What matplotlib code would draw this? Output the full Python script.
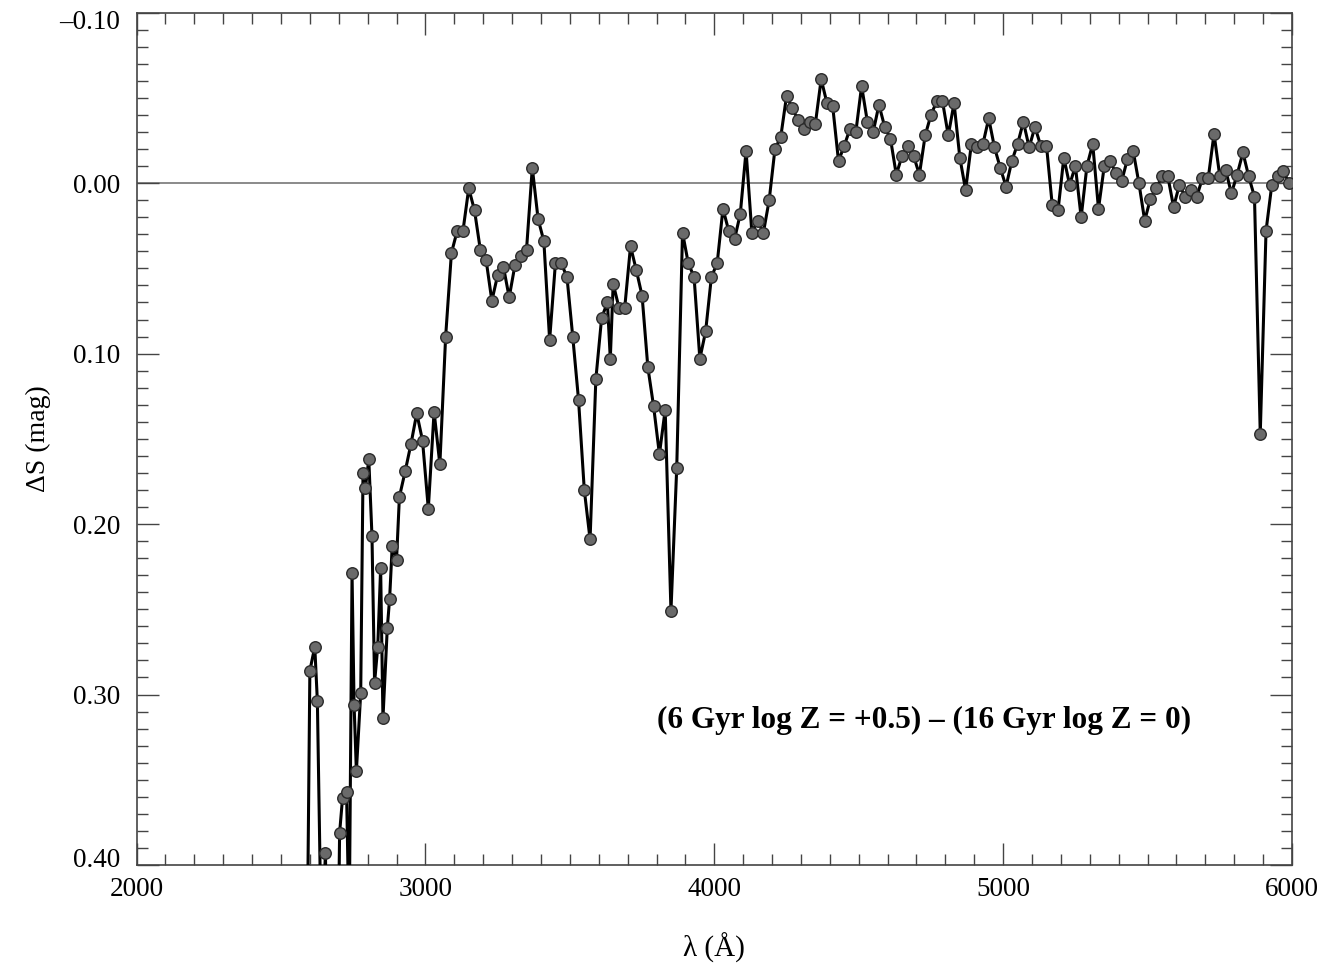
import matplotlib
matplotlib.use("Agg")
import matplotlib.pyplot as plt
from matplotlib.ticker import MultipleLocator, FixedLocator
from matplotlib.transforms import ScaledTranslation

# Wavelength (Angstrom) and Delta S (mag)
wavelength = [
    2588, 2600, 2617, 2626, 2640, 2654, 2665, 2690, 2703, 2713, 2727, 2736,
    2746, 2753, 2761, 2776, 2784, 2792, 2804, 2815, 2824, 2835, 2845, 2853,
    2868, 2876, 2885, 2900, 2910, 2930, 2950, 2970, 2990, 3010, 3030, 3050,
    3070, 3090, 3110, 3130, 3150, 3170, 3190, 3210, 3230, 3250, 3270, 3290,
    3310, 3330, 3350, 3370, 3390, 3410, 3430, 3450, 3470, 3490, 3510, 3530,
    3550, 3570, 3590, 3610, 3630, 3640, 3650, 3670, 3690, 3710, 3730, 3750,
    3770, 3790, 3810, 3830, 3850, 3870, 3890, 3910, 3930, 3950, 3970, 3990,
    4010, 4030, 4050, 4070, 4090, 4110, 4130, 4150, 4170, 4190, 4210, 4230,
    4250, 4270, 4290, 4310, 4330, 4350, 4370, 4390, 4410, 4430, 4450, 4470,
    4490, 4510, 4530, 4550, 4570, 4590, 4610, 4630, 4650, 4670, 4690, 4710,
    4730, 4750, 4770, 4790, 4810, 4830, 4850, 4870, 4890, 4910, 4930, 4950,
    4970, 4990, 5010, 5030, 5050, 5070, 5090, 5110, 5130, 5150, 5170, 5190,
    5210, 5230, 5250, 5270, 5290, 5310, 5330, 5350, 5370, 5390, 5410, 5430,
    5450, 5470, 5490, 5510, 5530, 5550, 5570, 5590, 5610, 5630, 5650, 5670,
    5690, 5710, 5730, 5750, 5770, 5790, 5810, 5830, 5850, 5870, 5890, 5910,
    5930, 5950, 5970, 5990,
]
delta_s = [
    0.500, 0.286, 0.272, 0.304, 0.450, 0.393, 0.550, 0.550, 0.381, 0.361, 0.357, 0.440,
    0.229, 0.306, 0.345, 0.299, 0.170, 0.179, 0.162, 0.207, 0.293, 0.272, 0.226, 0.314,
    0.261, 0.244, 0.213, 0.221, 0.184, 0.169, 0.153, 0.135, 0.151, 0.191, 0.134, 0.165,
    0.090, 0.041, 0.028, 0.028, 0.003, 0.016, 0.039, 0.045, 0.069, 0.054, 0.049, 0.067,
    0.048, 0.043, 0.039, -0.009, 0.021, 0.034, 0.092, 0.047, 0.047, 0.055, 0.090, 0.127,
    0.180, 0.209, 0.115, 0.079, 0.070, 0.103, 0.059, 0.073, 0.073, 0.037, 0.051, 0.066,
    0.108, 0.131, 0.159, 0.133, 0.251, 0.167, 0.029, 0.047, 0.055, 0.103, 0.087, 0.055,
    0.047, 0.015, 0.028, 0.033, 0.018, -0.019, 0.029, 0.022, 0.029, 0.010, -0.020, -0.027,
    -0.051, -0.044, -0.037, -0.032, -0.036, -0.035, -0.061, -0.047, -0.045, -0.013, -0.022, -0.032,
    -0.030, -0.057, -0.036, -0.030, -0.046, -0.033, -0.026, -0.005, -0.016, -0.022, -0.016, -0.005,
    -0.028, -0.040, -0.048, -0.048, -0.028, -0.047, -0.015, 0.004, -0.023, -0.021, -0.023, -0.038,
    -0.021, -0.009, 0.002, -0.013, -0.023, -0.036, -0.021, -0.033, -0.022, -0.022, 0.013, 0.016,
    -0.015, 0.001, -0.010, 0.020, -0.010, -0.023, 0.015, -0.010, -0.013, -0.006, -0.001, -0.014,
    -0.019, 0.000, 0.022, 0.009, 0.003, -0.004, -0.004, 0.014, 0.001, 0.008, 0.004, 0.008,
    -0.003, -0.003, -0.029, -0.004, -0.008, 0.006, -0.005, -0.018, -0.004, 0.008, 0.147, 0.028,
    0.001, -0.004, -0.007, 0.000,
]

x_ticks = [2000, 3000, 4000, 5000, 6000]
x_tick_labels = ["2000", "3000", "4000", "5000", "6000"]
y_ticks = [-0.10, 0.00, 0.10, 0.20, 0.30, 0.40]
y_tick_labels = ["\u20130.10", "0.00", "0.10", "0.20", "0.30", "0.40"]
annotation = "(6 Gyr log Z = +0.5) \u2013 (16 Gyr log Z = 0)"

plt.rcParams["font.family"] = ["Liberation Serif", "DejaVu Serif"]

fig = plt.figure(figsize=(13.4, 9.63), dpi=100)
ax = fig.add_axes([0.1019, 0.1018, 0.8623, 0.885])

ax.axhline(0.0, color="#8a8a8a", lw=1.4, zorder=1)
ax.plot(wavelength, delta_s, color="black", lw=2.2, marker="o",
        markersize=8.3, markerfacecolor="#6a6a6a", markeredgecolor="#2a2a2a",
        markeredgewidth=1.0, zorder=3)

ax.set_xlim(2000, 6000)
ax.set_ylim(0.40, -0.10)

ax.xaxis.set_major_locator(FixedLocator(x_ticks))
ax.set_xticklabels(x_tick_labels)
ax.xaxis.set_minor_locator(MultipleLocator(100))
ax.yaxis.set_major_locator(FixedLocator(y_ticks))
ax.set_yticklabels(y_tick_labels)
ax.yaxis.set_minor_locator(MultipleLocator(0.01))

ax.tick_params(which="both", direction="in", top=True, right=True,
               color="#444444", width=1.0)
ax.tick_params(which="major", length=16, labelsize=19.5)
ax.tick_params(axis="y", which="major", pad=12)
ax.tick_params(axis="x", which="major", pad=9)
ax.tick_params(which="minor", length=8)
for s in ax.spines.values():
    s.set_color("#444444")
    s.set_linewidth(1.2)

# keep the end labels inside the frame like the reference
ylabels = ax.get_yticklabels()
ylabels[0].set_transform(ylabels[0].get_transform() +
                         ScaledTranslation(0, -7 / 100, fig.dpi_scale_trans))
ylabels[-1].set_transform(ylabels[-1].get_transform() +
                          ScaledTranslation(0, 7 / 100, fig.dpi_scale_trans))

ax.set_xlabel("\u03bb (\u00c5)", fontsize=21, labelpad=22)
ax.set_ylabel("\u0394S (mag)", fontsize=20, labelpad=6)

ax.text(4726, 0.315, annotation, fontsize=22.5, fontweight="bold",
        ha="center", va="center")

fig.savefig("out.png", dpi=100)
